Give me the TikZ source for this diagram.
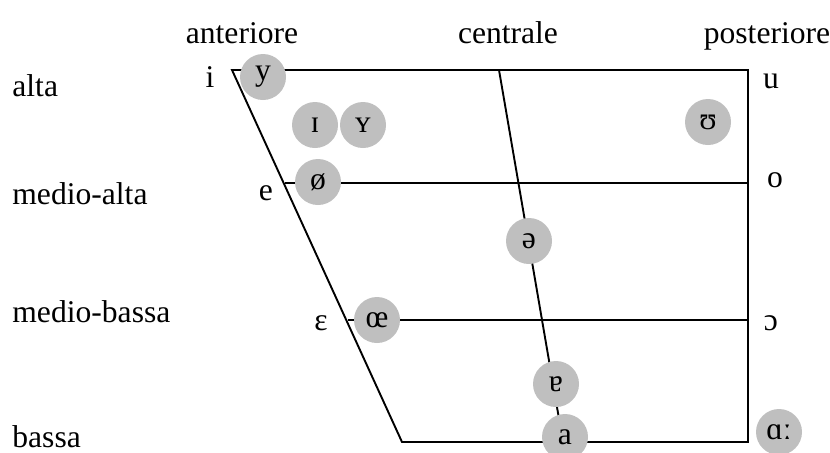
\documentclass[tikz,border=0pt]{standalone}
\usepackage{fontspec}
\setmainfont{Liberation Serif}
\usetikzlibrary{positioning}
\begin{document}
\begin{tikzpicture}[x=0.5pt,y=-0.5pt,font=\fontsize{15.8}{19}\selectfont,
    vow/.style={fill=black!25,circle,minimum size=23pt,inner sep=0pt},
    lbl/.style={inner sep=0pt,anchor=base},
    frame/.style={line width=0.95pt}]
    \useasboundingbox (0,0) rectangle (830,452);
    % corners of the chart
    \coordinate (tl) at (232,70);
    \coordinate (tr) at (748,70);
    \coordinate (bl) at (402,442);
    \coordinate (br) at (748,442);
    \coordinate (ml) at (285,183);
    \coordinate (mr) at (748,183);
    \coordinate (ll) at (348,320);
    \coordinate (lr) at (748,320);
    \coordinate (ct) at (499,70);
    \coordinate (cb) at (563,442);

    \draw[frame] (tl) -- (tr) -- (br) -- (bl) -- cycle;
    \draw[frame] (ml) -- (mr);
    \draw[frame] (ll) -- (lr);
    \draw[frame] (ct) -- (cb);

    % headings
    \node[lbl] (ant) at (242,43) {anteriore};
    \node[lbl] (cen) at (508,43) {centrale};
    \node[lbl] (pos) at (767,43) {posteriore};
    \node[lbl,anchor=base west] (alta) at (12,96) {alta};
    \node[lbl,anchor=base west] (malta) at (12,204) {medio-alta};
    \node[lbl,anchor=base west] (mbassa) at (12,322) {medio-bassa};
    \node[lbl,anchor=base west] (bassa) at (12,447) {bassa};

    % vowels outside the circles
    \node[lbl] (i) at (210,87) {i};
    \node[lbl] (e) at (266,200) {e};
    \node[lbl] (eps) at (321,330) {ɛ};
    \node[lbl] (u) at (771,88) {u};
    \node[lbl] (o) at (775,187) {o};
    \node[lbl] (oo) at (771,330) {ɔ};

    % vowels in circles
    \node[vow] (y) at (263,77) {y};
    \node[vow] (ii) at (315,125) {ɪ};
    \node[vow] (yy) at (363,125) {ʏ};
    \node[vow] (oe) at (318,182) {ø};
    \node[vow] (uu) at (708,122) {ʊ};
    \node[vow] (schwa) at (529,241) {ə};
    \node[vow] (oee) at (377,320) {œ};
    \node[vow] (ae) at (556,384) {ɐ};
    \node[vow] (a) at (565,437) {a};
    \node[vow] (along) at (779,432) {ɑː};
\end{tikzpicture}
\end{document}
